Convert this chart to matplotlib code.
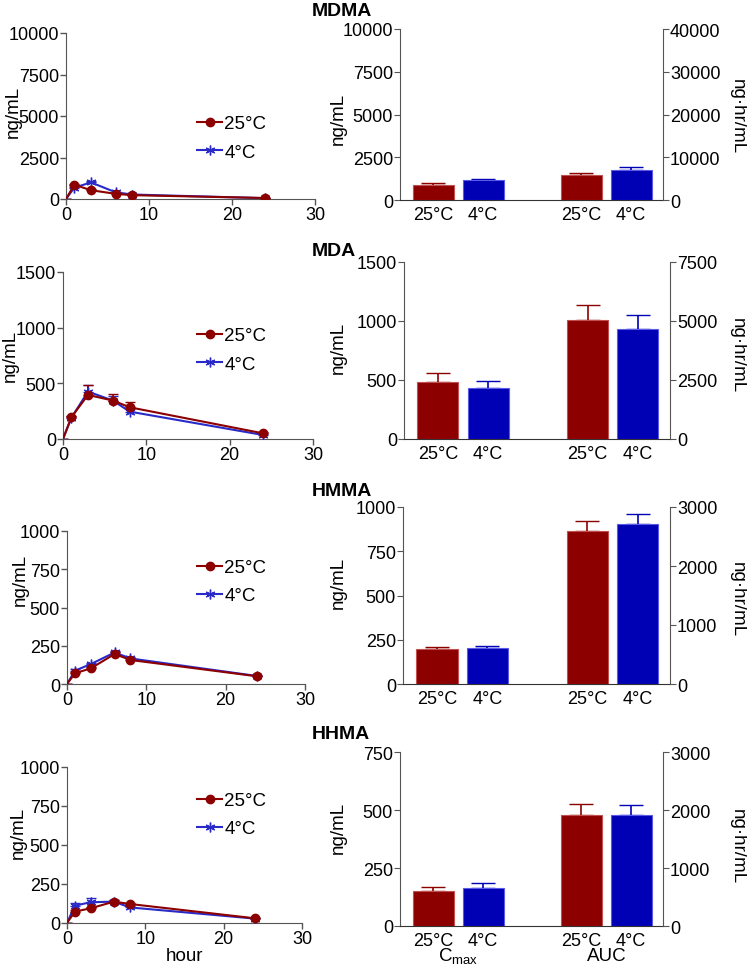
import numpy as np
import matplotlib.pyplot as plt
import matplotlib.transforms as mtransforms

plt.rcParams['font.family'] = ['Liberation Sans', 'DejaVu Sans']

# concentration-time data (ng/mL)
hours = [0, 1, 3, 6, 8, 24]
drugs = ['MDMA', 'MDA', 'HMMA', 'HHMA']
temps = ['25°C', '4°C']

mdma_25 = [0, 860, 530, 310, 230, 60]
mdma_4 = [0, 680, 1000, 400, 270, 50]
mda_25 = [0, 195, 396, 345, 285, 51]
mda_4 = [0, 190, 426, 345, 246, 36]
hmma_25 = [0, 70, 102, 196, 157, 50]
hmma_4 = [0, 87, 130, 206, 167, 52]
hhma_25 = [0, 73, 94, 137, 122, 30]
hhma_4 = [0, 111, 133, 137, 100, 28]

mdma_25_err = [0, 60, 50, 40, 30, 10]
mdma_4_err = [0, 50, 80, 40, 30, 10]
mda_25_err = [0, 15, 85, 60, 50, 8]
mda_4_err = [0, 15, 60, 40, 20, 5]
hmma_25_err = [0, 8, 10, 12, 10, 5]
hmma_4_err = [0, 8, 10, 12, 8, 5]
hhma_25_err = [0, 8, 8, 10, 8, 4]
hhma_4_err = [0, 15, 25, 10, 8, 4]

# Cmax (ng/mL) and AUC (ng*hr/mL)
cmax_25 = [870, 481, 196, 153]
cmax_25_err = [120, 76, 13, 14]
cmax_4 = [1150, 430, 202, 164]
cmax_4_err = [100, 65, 15, 23]
auc_25 = [5830, 5050, 2590, 1920]
auc_25_err = [460, 610, 170, 190]
auc_4 = [6990, 4640, 2710, 1920]
auc_4_err = [620, 610, 165, 170]

line_ymax = [10000, 1500, 1000, 1000]
line_ystep = [2500, 500, 250, 250]
cmax_ymax = [10000, 1500, 1000, 750]
cmax_ystep = [2500, 500, 250, 250]
auc_ymax = [40000, 7500, 3000, 3000]
auc_ystep = [10000, 2500, 1000, 1000]

curves_25 = [mdma_25, mda_25, hmma_25, hhma_25]
curves_4 = [mdma_4, mda_4, hmma_4, hhma_4]
errs_25 = [mdma_25_err, mda_25_err, hmma_25_err, hhma_25_err]
errs_4 = [mdma_4_err, mda_4_err, hmma_4_err, hhma_4_err]

RED = '#8c0000'
BLUE = '#0000b4'
LBLUE = '#2a2ac8'

W, H = 747, 970
fig = plt.figure(figsize=(W / 100, H / 100), dpi=100)

# pixel boxes: x0, x1, ytop, ybottom
left_boxes = [(66, 315, 34, 200), (63, 313, 273, 440), (67, 305, 532, 685), (67, 302, 768, 924)]
right_boxes = [(400, 663, 30, 201), (404, 670, 263, 440), (403, 670, 508, 685), (400, 663, 753, 927)]
title_y = [11, 252, 492, 735]
legend_y = [116, 328, 560, 793]
ylab_left = [(13, 112), (10, 356), (20, 580), (18, 833)]
ylab_mid_y = [119, 348, 583, 828]
ylab_right_y = [117, 356, 600, 847]

def px_rect(b):
    x0, x1, yt, yb = b
    return [x0 / W, 1 - yb / H, (x1 - x0) / W, (yb - yt) / H]

def fx(x):
    return x / W

def fy(y):
    return 1 - y / H

TS = 13
LS = 13.5

for i in range(4):
    # time course panel
    ax = fig.add_axes(px_rect(left_boxes[i]))
    ax.errorbar(hours, curves_4[i], yerr=[np.zeros(6), errs_4[i]], fmt='none',
                ecolor=LBLUE, elinewidth=1.2, capsize=3.5, zorder=2)
    ax.errorbar(hours, curves_25[i], yerr=[np.zeros(6), errs_25[i]], fmt='none',
                ecolor=RED, elinewidth=1.2, capsize=3.5, zorder=2)
    ax.plot(hours, curves_4[i], color=LBLUE, lw=1.5, marker=(6, 2, 0), ms=7,
            markevery=slice(1, None), label=temps[1], zorder=3)
    ax.plot(hours, curves_25[i], color=RED, lw=1.5, marker='o', ms=6,
            markevery=slice(1, None), label=temps[0], zorder=4)
    ax.set_xlim(0, 30)
    ax.set_ylim(0, line_ymax[i])
    ax.set_xticks([0, 10, 20, 30])
    ax.set_yticks(np.arange(0, line_ymax[i] + 1, line_ystep[i]))
    ax.spines['top'].set_visible(False)
    ax.spines['right'].set_visible(False)
    ax.spines['left'].set_color('#555555')
    ax.spines['bottom'].set_color('#555555')
    ax.tick_params(labelsize=TS, length=4, width=1, color='#555555', pad=1)
    fig.text(fx(ylab_left[i][0]), fy(ylab_left[i][1]), 'ng/mL', fontsize=LS,
             rotation=90, ha='center', va='center')
    h, l = ax.get_legend_handles_labels()
    ax.legend(h[::-1], l[::-1], loc='upper left', bbox_to_anchor=(fx(197), fy(legend_y[i])),
              bbox_transform=fig.transFigure, frameon=False, fontsize=LS,
              handlelength=1.35, handletextpad=0.1, borderpad=0, borderaxespad=0,
              labelspacing=0.6)
    if i == 3:
        ax.set_xlabel('hour', fontsize=LS, labelpad=0)

    fig.text(fx(312), fy(title_y[i]), drugs[i], fontsize=14, fontweight='bold',
             ha='left', va='center')

    # Cmax / AUC panel, AUC on the right axis
    bx = fig.add_axes(px_rect(right_boxes[i]))
    bx2 = bx.twinx()
    bx2.set_position(px_rect(right_boxes[i]))
    pos = [0.82, 2.04, 4.45, 5.67]
    bx.bar(pos[0], cmax_25[i], width=1, color=RED, edgecolor='#c05050', lw=0.8, zorder=3)
    bx.bar(pos[1], cmax_4[i], width=1, color=BLUE, edgecolor='#5a5ae6', lw=0.8, zorder=3)
    bx.errorbar(pos[0], cmax_25[i], yerr=[[0], [cmax_25_err[i]]], fmt='none', ecolor=RED,
                elinewidth=1.2, capsize=8.5, zorder=2)
    bx.errorbar(pos[1], cmax_4[i], yerr=[[0], [cmax_4_err[i]]], fmt='none', ecolor=BLUE,
                elinewidth=1.2, capsize=8.5, zorder=2)
    bx2.bar(pos[2], auc_25[i], width=1, color=RED, edgecolor='#c05050', lw=0.8, zorder=3)
    bx2.bar(pos[3], auc_4[i], width=1, color=BLUE, edgecolor='#5a5ae6', lw=0.8, zorder=3)
    bx2.errorbar(pos[2], auc_25[i], yerr=[[0], [auc_25_err[i]]], fmt='none', ecolor=RED,
                 elinewidth=1.2, capsize=8.5, zorder=2)
    bx2.errorbar(pos[3], auc_4[i], yerr=[[0], [auc_4_err[i]]], fmt='none', ecolor=BLUE,
                 elinewidth=1.2, capsize=8.5, zorder=2)
    for a in (bx, bx2):
        a.set_xlim(0, 6.45)
        a.spines['top'].set_visible(False)
    bx.set_ylim(0, cmax_ymax[i])
    bx.set_yticks(np.arange(0, cmax_ymax[i] + 1, cmax_ystep[i]))
    bx2.set_ylim(0, auc_ymax[i])
    bx2.set_yticks(np.arange(0, auc_ymax[i] + 1, auc_ystep[i]))
    bx.spines['right'].set_visible(False)
    bx2.spines['left'].set_visible(False)
    bx2.spines['bottom'].set_visible(False)
    bx2.spines['right'].set_color('#555555')
    bx.spines['left'].set_color('#555555')
    bx.spines['bottom'].set_color('#333333')
    bx.set_xticks(pos)
    bx.set_xticklabels(temps + temps)
    bx.tick_params(axis='x', length=0, labelsize=TS, pad=4)
    bx.tick_params(axis='y', labelsize=TS, length=4, color='#555555', pad=1)
    bx2.tick_params(axis='y', labelsize=TS, length=4, color='#555555', pad=1)
    fig.text(fx(338), fy(ylab_mid_y[i]), 'ng/mL', fontsize=LS,
             rotation=90, ha='center', va='center')
    fig.text(fx(737), fy(ylab_right_y[i]), 'ng·hr/mL', fontsize=LS,
             rotation=270, ha='center', va='center')
    if i == 3:
        trans = mtransforms.blended_transform_factory(bx.transData, fig.transFigure)
        bx.text((pos[0] + pos[1]) / 2, fy(957), r'C$_{\mathregular{max}}$', fontsize=LS,
                ha='center', va='center', transform=trans)
        bx.text((pos[2] + pos[3]) / 2, fy(957), 'AUC', fontsize=LS,
                ha='center', va='center', transform=trans)

fig.savefig('out.png', dpi=100)
